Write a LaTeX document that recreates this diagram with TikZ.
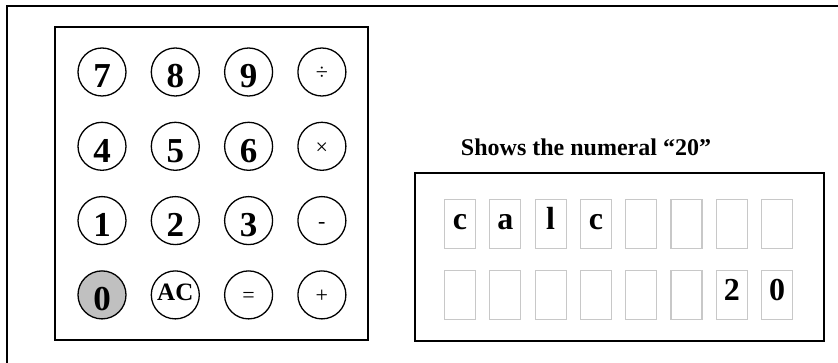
\documentclass[tikz,border=0pt]{standalone}
\usepackage{fontspec}
\setmainfont{Liberation Serif}
\usetikzlibrary{positioning}
\definecolor{keygray}{HTML}{C0C0C0}
\definecolor{cellgray}{HTML}{C8C8C8}
\tikzset{
  panel/.style={
    rectangle,
    draw=black,
    line width=1.5pt,
    fill=white,
    inner sep=0pt
  },
  key/.style={
    circle,
    draw=black,
    line width=1.3pt,
    fill=white,
    inner sep=0pt,
    minimum size=48pt
  },
  digitkey/.style={key,font=\fontsize{35}{35}\selectfont\bfseries,text height=32pt,text depth=0pt},
  opkey/.style={key,font=\fontsize{22}{22}\selectfont,text height=16pt,text depth=0pt},
  ackey/.style={key,font=\fontsize{25}{25}\selectfont\bfseries,text height=11pt,text depth=0pt},
  cell/.style={
    rectangle,
    draw=cellgray,
    line width=1.2pt,
    inner sep=0pt,
    minimum width=31pt,
    minimum height=49pt,
    font=\fontsize{32}{32}\selectfont\bfseries,
    text height=12pt,
    text depth=0pt
  },
  caption/.style={font=\fontsize{24}{24}\selectfont\bfseries,inner sep=0pt}
}

\begin{document}
\begin{tikzpicture}[x=1pt,y=-1pt,node distance=25pt and 24pt]
    \useasboundingbox (0,0) rectangle (838,363);
    % outer frame, cut off at the right and at the bottom
    \draw[line width=1.6pt] (7,363) |- (838,6);

    \node[panel,minimum width=313pt,minimum height=313pt] (keypad) at (211.5,183.5) {};
    \node[panel,minimum width=409pt,minimum height=168pt] (display) at (619.5,257) {};

    % keys
    \node[digitkey] (k7) at (102,72) {7};
    \node[digitkey,right=of k7] (k8) {8};
    \node[digitkey,right=of k8] (k9) {9};
    \node[opkey,right=of k9] (kdiv) {÷};
    \node[digitkey,below=of k7] (k4) {4};
    \node[digitkey,right=of k4] (k5) {5};
    \node[digitkey,right=of k5] (k6) {6};
    \node[opkey,right=of k6] (kmul) {×};
    \node[digitkey,below=of k4] (k1) {1};
    \node[digitkey,right=of k1] (k2) {2};
    \node[digitkey,right=of k2] (k3) {3};
    \node[opkey,right=of k3] (ksub) {-};
    \node[digitkey,below=of k1,fill=keygray] (k0) {0};
    \node[ackey,right=of k0] (kac) {AC};
    \node[opkey,right=of kac] (keq) {=};
    \node[opkey,right=of keq] (kadd) {+};

    % display
    \node[caption] (title) at (586,147) {Shows the numeral “20”};
    \foreach \t [count=\i] in {c,a,l,c,{},{},{},{}}
      \node[cell] (top\i) at ({460+45.3*(\i-1)},224) {\t};
    \foreach \t [count=\i] in {{},{},{},{},{},{},2,0}
      \node[cell] (bot\i) at ({460+45.3*(\i-1)},295) {\t};
  \end{tikzpicture}
\end{document}
